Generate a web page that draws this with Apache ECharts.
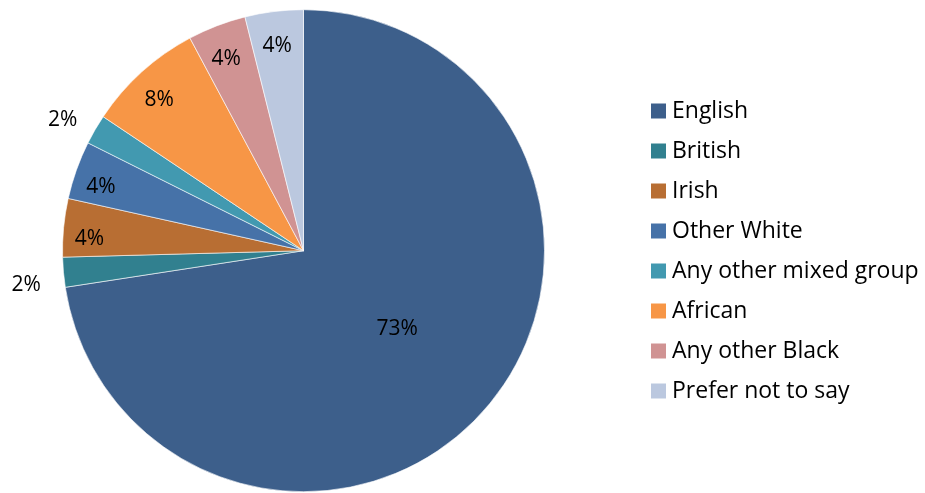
<!DOCTYPE html>
<html style="height: 100%">
<head>
    <meta charset="utf-8">
    <script src="https://cdn.jsdelivr.net/npm/echarts@6/dist/echarts.min.js"></script>
</head>
<body style="height: 100%; margin: 0; background: #fff">
<div id="container" style="width: 925px; height: 493px"></div>
<script type="text/javascript">
// groups, clockwise from 12 o'clock
var groups = ['English', 'British', 'Irish', 'Other White', 'Any other mixed group', 'African', 'Any other Black', 'Prefer not to say'];
// share of respondents, %
var shares = [72.5, 2.0, 3.9, 3.9, 2.0, 7.8, 3.9, 3.9];
var colors = ['#3D5F8B', '#31808F', '#B86E33', '#4672A8', '#4299B0', '#F79646', '#D09393', '#BBC8DF'];
// where each percentage label sits: centre of the pie, inner band, outside
var labelSpot = ['centre', 'outside', 'band', 'band', 'outside', 'band', 'band', 'band'];

var FONT = 'Open Sans';
var cx = 303.5, cy = 250.7, R = 241;

function dataFor(spot) {
    return groups.map(function (g, i) {
        return {
            name: g,
            value: shares[i],
            label: { show: labelSpot[i] === spot }
        };
    });
}

// the empty line before / after nudges the text a little off the slice's anchor point
function labelText(before, after, lh) {
    return {
        position: 'inside',
        formatter: function (p) {
            return before + Math.round(p.percent) + '%' + after;
        },
        color: '#000',
        fontFamily: FONT,
        fontSize: 21,
        lineHeight: lh
    };
}

var dom = document.getElementById('container');
var myChart = echarts.init(dom);
var option = {
    animation: false,
    color: colors,
    legend: {
        orient: 'vertical',
        left: 644,
        top: 94,
        icon: 'rect',
        itemWidth: 17,
        itemHeight: 17,
        itemGap: 16,
        selectedMode: false,
        data: groups,
        textStyle: {
            color: '#000',
            fontFamily: FONT,
            fontSize: 23,
            lineHeight: 24
        }
    },
    series: [
        {
            name: 'main',
            type: 'pie',
            center: [cx, cy],
            radius: [0, R],
            startAngle: 90,
            clockwise: true,
            avoidLabelOverlap: false,
            itemStyle: { borderColor: '#ffffff', borderWidth: 0.6 },
            label: labelText('', '\n', 4),
            labelLine: { show: false },
            emphasis: { disabled: true },
            data: dataFor('centre')
        },
        {
            name: 'band',
            type: 'pie',
            silent: true,
            center: [cx, cy],
            radius: [183, R],
            startAngle: 90,
            avoidLabelOverlap: false,
            itemStyle: { color: 'rgba(0,0,0,0)' },
            label: labelText('\n', '', 17),
            labelLine: { show: false },
            emphasis: { disabled: true },
            data: dataFor('band')
        },
        {
            name: 'outside',
            type: 'pie',
            silent: true,
            center: [cx, cy],
            radius: [R, 310],
            startAngle: 90,
            avoidLabelOverlap: false,
            itemStyle: { color: 'rgba(0,0,0,0)' },
            label: labelText('\n', '', 18),
            labelLine: { show: false },
            emphasis: { disabled: true },
            data: dataFor('outside')
        }
    ]
};
myChart.setOption(option, true);
</script>
</body>
</html>
